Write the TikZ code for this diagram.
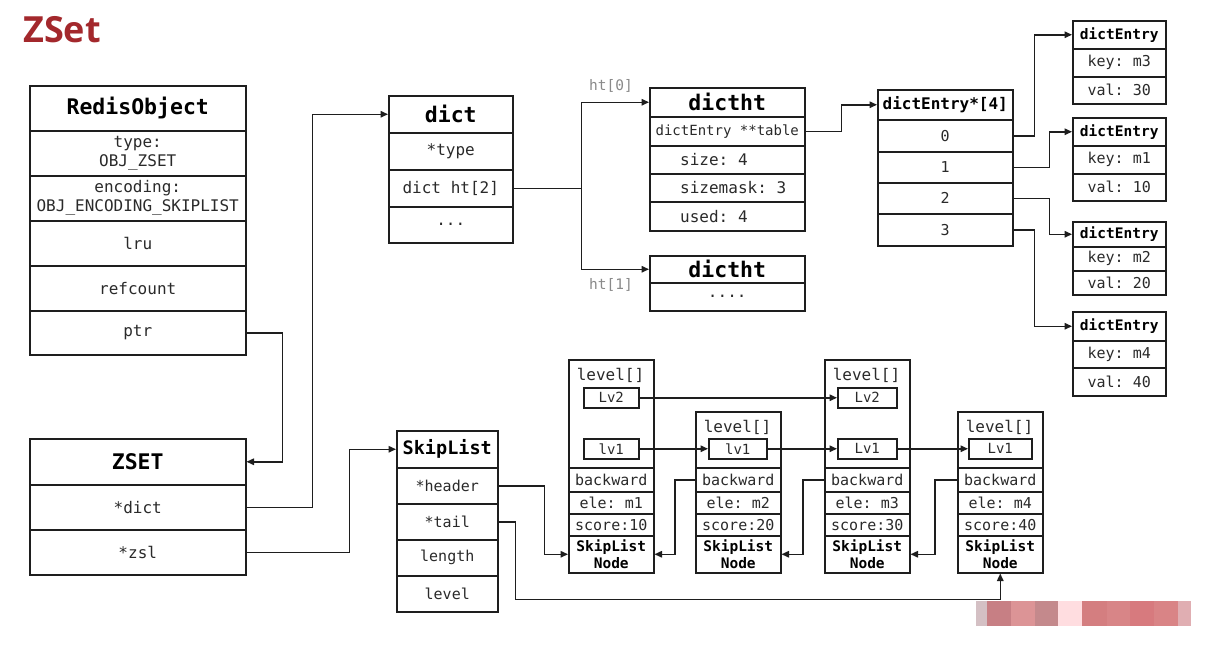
\documentclass[tikz,border=0pt]{standalone}
\usepackage{fontspec}
\setmonofont{DejaVu Sans Mono}
\newfontfamily\titlefont{Open Sans}
\usetikzlibrary{arrows.meta,calc}
\definecolor{zred}{HTML}{A3282C}
\definecolor{lc}{HTML}{1E1E1E}
\definecolor{tc}{HTML}{2A2A2A}
\definecolor{gc}{HTML}{8A8A8A}
\definecolor{wa}{HTML}{D4C0C4}
\definecolor{wb}{HTML}{C77F84}
\definecolor{wc}{HTML}{DC9496}
\definecolor{wd}{HTML}{C4898C}
\definecolor{we}{HTML}{FFDDE0}
\definecolor{wf}{HTML}{D47E80}
\definecolor{wg}{HTML}{D88587}
\definecolor{wh}{HTML}{D77A7E}
\definecolor{wi}{HTML}{D98486}
\definecolor{wj}{HTML}{E0AEB2}
\begin{document}
\begin{tikzpicture}[x=1pt,y=-1pt,
  cell/.style={draw=lc,line width=1.5pt,inner sep=0pt,anchor=north west,text=tc,align=center,
    font=\ttfamily\fontsize{16}{19}\selectfont},
  hdr/.style={text=black,font=\ttfamily\bfseries\fontsize{21.5}{24}\selectfont},
  bh/.style={text=black,font=\ttfamily\bfseries\fontsize{14.5}{17}\selectfont},
  f15/.style={font=\ttfamily\fontsize{15}{17}\selectfont},
  f14/.style={font=\ttfamily\fontsize{14}{16}\selectfont},
  txt/.style={inner sep=0pt,text=tc,font=\ttfamily\fontsize{16}{19}\selectfont},
  arr/.style={draw=lc,line width=1.5pt,-{Triangle[length=7.5pt,width=6.5pt]}},
  ln/.style={draw=lc,line width=1.5pt}]
\fill[white] (0,0) rectangle (1225,646);
\useasboundingbox (0,0) rectangle (1225,646);

% title
\node[anchor=base west,inner sep=0pt,text=zred,font=\titlefont\bfseries\fontsize{36}{36}\selectfont] (title) at (23,42) {ZSet};

% RedisObject
\node[cell,hdr,minimum width=216pt,minimum height=45pt] (roH) at (29,85) {RedisObject};
\node[cell,minimum width=216pt,minimum height=45pt] (roT) at (29,130) {type:\\OBJ\_ZSET};
\node[cell,minimum width=216pt,minimum height=45pt] (roE) at (29,175) {encoding:\\OBJ\_ENCODING\_SKIPLIST};
\node[cell,minimum width=216pt,minimum height=45pt] (roL) at (29,220) {lru};
\node[cell,minimum width=216pt,minimum height=45pt] (roR) at (29,265) {refcount};
\node[cell,minimum width=216pt,minimum height=44pt] (roP) at (29,310) {ptr};

% ZSET
\node[cell,hdr,minimum width=216pt,minimum height=46pt] (zH) at (29,438) {ZSET};
\node[cell,minimum width=216pt,minimum height=45pt] (zD) at (29,484) {*dict};
\node[cell,minimum width=216pt,minimum height=45pt] (zZ) at (29,529) {*zsl};

% dict
\node[cell,hdr,minimum width=124pt,minimum height=37pt] (dH) at (388,95) {dict};
\node[cell,minimum width=124pt,minimum height=37pt] (dT) at (388,132) {*type};
\node[cell,minimum width=124pt,minimum height=37pt] (dHt) at (388,169) {dict ht[2]};
\node[cell,minimum width=124pt,minimum height=36pt] (dM) at (388,206) {...};

% dictht 0
\node[cell,hdr,minimum width=155pt,minimum height=29pt] (h0H) at (649,87) {dictht};
\node[cell,f14,minimum width=155pt,minimum height=29pt] (h0T) at (649,116) {dictEntry **table};
\node[cell,minimum width=155pt,minimum height=28pt] (h0S) at (649,145) {};
\node[cell,minimum width=155pt,minimum height=28pt] (h0M) at (649,173) {};
\node[cell,minimum width=155pt,minimum height=29pt] (h0U) at (649,201) {};
\node[txt,anchor=west] (h0St) at ($(h0S.west)+(31,0)$) {size: 4};
\node[txt,anchor=west] (h0Mt) at ($(h0M.west)+(31,0)$) {sizemask: 3};
\node[txt,anchor=west] (h0Ut) at ($(h0U.west)+(31,0)$) {used: 4};

% dictht 1
\node[cell,hdr,minimum width=155pt,minimum height=27pt] (h1H) at (649,255) {dictht};
\node[cell,minimum width=155pt,minimum height=28pt] (h1D) at (649,282) {....};

\node[inner sep=0pt,text=gc,font=\ttfamily\fontsize{14.5}{16}\selectfont] (l0) at (611,86) {ht[0]};
\node[inner sep=0pt,text=gc,font=\ttfamily\fontsize{14.5}{16}\selectfont] (l1) at (611,285) {ht[1]};

% dictEntry*[4]
\node[cell,text=black,font=\ttfamily\bfseries\fontsize{16}{18}\selectfont,minimum width=135pt,minimum height=30pt] (aH) at (877,89) {dictEntry*[4]};
\node[cell,f15,minimum width=135pt,minimum height=32pt] (a0) at (877,119) {0};
\node[cell,f15,minimum width=135pt,minimum height=31pt] (a1) at (877,151) {1};
\node[cell,f15,minimum width=135pt,minimum height=31pt] (a2) at (877,182) {2};
\node[cell,f15,minimum width=135pt,minimum height=32pt] (a3) at (877,213) {3};

% dictEntry boxes
\node[cell,bh,minimum width=93pt,minimum height=28pt] (e1H) at (1072,20) {dictEntry};
\node[cell,f15,minimum width=93pt,minimum height=28pt] (e1K) at (1072,48) {key: m3};
\node[cell,f15,minimum width=93pt,minimum height=27pt] (e1V) at (1072,76) {val: 30};

\node[cell,bh,minimum width=93pt,minimum height=28pt] (e2H) at (1072,117) {dictEntry};
\node[cell,f15,minimum width=93pt,minimum height=28pt] (e2K) at (1072,145) {key: m1};
\node[cell,f15,minimum width=93pt,minimum height=27pt] (e2V) at (1072,173) {val: 10};

\node[cell,bh,minimum width=93pt,minimum height=25pt] (e3H) at (1072,221) {dictEntry};
\node[cell,f15,minimum width=93pt,minimum height=24pt] (e3K) at (1072,246) {key: m2};
\node[cell,f15,minimum width=93pt,minimum height=24pt] (e3V) at (1072,270) {val: 20};

\node[cell,bh,minimum width=93pt,minimum height=29pt] (e4H) at (1072,311) {dictEntry};
\node[cell,f15,minimum width=93pt,minimum height=27pt] (e4K) at (1072,340) {key: m4};
\node[cell,f15,minimum width=93pt,minimum height=28pt] (e4V) at (1072,367) {val: 40};

% SkipList
\node[cell,text=black,font=\ttfamily\bfseries\fontsize{18.5}{20}\selectfont,minimum width=101pt,minimum height=37pt] (sH) at (396,430) {SkipList};
\node[cell,f15,minimum width=101pt,minimum height=36pt] (sHd) at (396,467) {*header};
\node[cell,f15,minimum width=101pt,minimum height=36pt] (sT) at (396,503) {*tail};
\node[cell,f15,minimum width=101pt,minimum height=36pt] (sL) at (396,539) {length};
\node[cell,f15,minimum width=101pt,minimum height=36pt] (sLv) at (396,575) {level};

% skiplist nodes
% node 1
\node[cell,minimum width=85pt,minimum height=108pt] (n1lvl) at (568,359) {};
\node[txt,font=\ttfamily\fontsize{16}{18}\selectfont] (n1lt) at (610.5,375) {level[]};
\node[cell,f14,minimum width=55pt,minimum height=20pt] (n1lv2) at (583,387) {Lv2};
\node[cell,f14,minimum width=55pt,minimum height=20pt] (n1lv1) at (583,438) {lv1};
\node[cell,f15,minimum width=85pt,minimum height=24pt] (n1bw) at (568,467) {backward};
\node[cell,f15,minimum width=85pt,minimum height=22pt] (n1ele) at (568,491) {ele: m1};
\node[cell,f15,minimum width=85pt,minimum height=22pt] (n1sc) at (568,513) {score:10};
\node[cell,bh,minimum width=85pt,minimum height=37pt] (n1nm) at (568,535) {SkipList\\Node};
% node 2
\node[cell,minimum width=85pt,minimum height=56pt] (n2lvl) at (695,411) {};
\node[txt,font=\ttfamily\fontsize{16}{18}\selectfont] (n2lt) at (737.5,427) {level[]};
\node[cell,f14,minimum width=58pt,minimum height=20pt] (n2lv1) at (708,438) {lv1};
\node[cell,f15,minimum width=85pt,minimum height=24pt] (n2bw) at (695,467) {backward};
\node[cell,f15,minimum width=85pt,minimum height=22pt] (n2ele) at (695,491) {ele: m2};
\node[cell,f15,minimum width=85pt,minimum height=22pt] (n2sc) at (695,513) {score:20};
\node[cell,bh,minimum width=85pt,minimum height=37pt] (n2nm) at (695,535) {SkipList\\Node};
% node 3
\node[cell,minimum width=85pt,minimum height=108pt] (n3lvl) at (824,359) {};
\node[txt,font=\ttfamily\fontsize{16}{18}\selectfont] (n3lt) at (866.5,375) {level[]};
\node[cell,f14,minimum width=59pt,minimum height=20pt] (n3lv2) at (837,387) {Lv2};
\node[cell,f14,minimum width=59pt,minimum height=20pt] (n3lv1) at (837,438) {Lv1};
\node[cell,f15,minimum width=85pt,minimum height=24pt] (n3bw) at (824,467) {backward};
\node[cell,f15,minimum width=85pt,minimum height=22pt] (n3ele) at (824,491) {ele: m3};
\node[cell,f15,minimum width=85pt,minimum height=22pt] (n3sc) at (824,513) {score:30};
\node[cell,bh,minimum width=85pt,minimum height=37pt] (n3nm) at (824,535) {SkipList\\Node};
% node 4
\node[cell,minimum width=85pt,minimum height=56pt] (n4lvl) at (957,411) {};
\node[txt,font=\ttfamily\fontsize{16}{18}\selectfont] (n4lt) at (999.5,427) {level[]};
\node[cell,f14,minimum width=63pt,minimum height=20pt] (n4lv1) at (968,438) {Lv1};
\node[cell,f15,minimum width=85pt,minimum height=24pt] (n4bw) at (957,467) {backward};
\node[cell,f15,minimum width=85pt,minimum height=22pt] (n4ele) at (957,491) {ele: m4};
\node[cell,f15,minimum width=85pt,minimum height=22pt] (n4sc) at (957,513) {score:40};
\node[cell,bh,minimum width=85pt,minimum height=37pt] (n4nm) at (957,535) {SkipList\\Node};

% connectors
\draw[arr] (roP.east) -- ++(36,0) |- (zH.east);
\draw[arr] (zD.east) -- ++(66,0) |- (dH.west);
\draw[arr] (zZ.east) -- ++(103,0) |- (sH.west);
\draw[ln] (dHt.east) -- ++(68,0) coordinate (jht);
\draw[arr] (jht) |- (h0H.west);
\draw[arr] (jht) |- (h1H.west);
\draw[arr] (h0T.east) -- ++(36,0) |- (aH.west);
\draw[arr] (a0.east) -- ++(21,0) |- (e1H.west);
\draw[arr] (a1.east) -- ++(36,0) |- (e2H.west);
\draw[arr] (a2.east) -- ++(36,0) |- (e3H.west);
\draw[arr] (a3.east) -- ++(21,0) |- (e4H.west);
\draw[arr] (sHd.east) -- ++(46,0) |- (n1nm.west);
\draw[arr] (sT.east) -- ++(17,0) |- ($(n4nm.south)+(0,26)$) -- (n4nm.south);
\draw[arr] (n1lv2.east) -- (n3lv2.west);
\draw[arr] (n1lv1.east) -- (n2lv1.west);
\draw[arr] (n2lv1.east) -- (n3lv1.west);
\draw[arr] (n3lv1.east) -- (n4lv1.west);
\draw[arr] (n2bw.west) -- ++(-20,0) |- (n1nm.east);
\draw[arr] (n3bw.west) -- ++(-21,0) |- (n2nm.east);
\draw[arr] (n4bw.west) -- ++(-22,0) |- (n3nm.east);

% pixelated watermark
\fill[wa] (976,601) rectangle (987,626);
\fill[wb] (987,601) rectangle (1011,626);
\fill[wc] (1011,601) rectangle (1035,626);
\fill[wd] (1035,601) rectangle (1058,626);
\fill[we] (1058,601) rectangle (1082,626);
\fill[wf] (1082,601) rectangle (1107,626);
\fill[wg] (1107,601) rectangle (1130,626);
\fill[wh] (1130,601) rectangle (1154,626);
\fill[wi] (1154,601) rectangle (1178,626);
\fill[wj] (1178,601) rectangle (1191,626);
\end{tikzpicture}
\end{document}
